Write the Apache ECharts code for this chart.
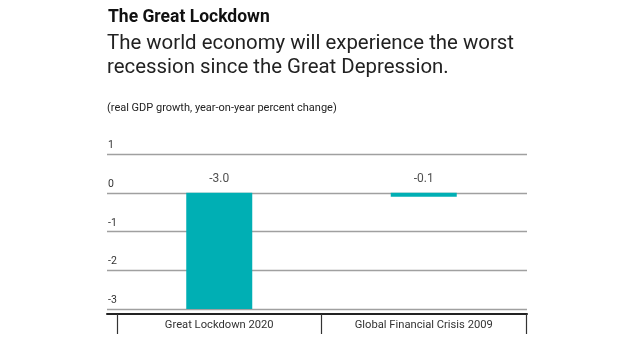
<!DOCTYPE html>
<html><head><meta charset="utf-8">
<script src="https://cdn.jsdelivr.net/npm/echarts@6/dist/echarts.min.js"></script>
<style>html,body{margin:0;padding:0;background:#fff}#c{width:624px;height:351px}</style>
</head><body><div id="c"></div>
<script>
const categories = ['Great Lockdown 2020', 'Global Financial Crisis 2009'];
const growth = [-3.0, -0.1];
const yTicks = [-3, -2, -1, 0, 1];
const title = 'The Great Lockdown';
const subtitle = ['The world economy will experience the worst', 'recession since the Great Depression.'];
const unitNote = '(real GDP growth, year-on-year percent change)';

const chart = echarts.init(document.getElementById('c'));
const font = 'Roboto, "Liberation Sans", sans-serif';
chart.setOption({
  animation: false,
  graphic: [
    {type:'text', left:108, top:9, style:{text:title, font:'bold 17.5px '+font, fill:'#111'}},
    {type:'text', left:107, top:32, style:{text:subtitle.join('\n'), font:'20.4px '+font, lineHeight:24, fill:'#222'}},
    {type:'text', left:107, top:103, style:{text:unitNote, font:'11px '+font, fill:'#222'}}
  ],
  grid: [
    {left:107, right:97, top:154, bottom:42},
    {left:117, right:98, top:154, bottom:42}
  ],
  xAxis: [
    {gridIndex:0, type:'value', min:0, max:1, offset:5,
     axisLine:{show:true, onZero:false, lineStyle:{color:'#222', width:2}},
     axisTick:{show:false}, axisLabel:{show:false}, splitLine:{show:false}},
    {gridIndex:1, type:'category', data:categories, offset:5,
     axisLine:{show:false, onZero:false},
     axisTick:{show:true, length:20, lineStyle:{color:'#333', width:1.2}},
     axisLabel:{margin:6, fontSize:11.2, color:'#333', fontFamily:font}}
  ],
  yAxis: [
    {gridIndex:0, type:'value', min:yTicks[0], max:yTicks[yTicks.length-1], interval:1,
     axisLine:{show:false}, axisTick:{show:false},
     axisLabel:{inside:true, margin:1, verticalAlign:'bottom', padding:[0,0,3,0], fontSize:10.5, color:'#333', fontFamily:font},
     splitLine:{show:true, lineStyle:{color:'#a0a0a0', width:1.3}}},
    {gridIndex:1, type:'value', min:yTicks[0], max:yTicks[yTicks.length-1], interval:1, show:false}
  ],
  series: [
    {type:'bar', xAxisIndex:1, yAxisIndex:1, data:growth, barWidth:66,
     itemStyle:{color:'#00AFB4'}},
    {type:'scatter', xAxisIndex:1, yAxisIndex:1, symbolSize:0,
     data: growth.map((v,i)=>[i,0,v]),
     label:{show:true, position:'top', distance:8, fontSize:12, color:'#222', fontFamily:font,
       formatter:p=>p.data[2].toFixed(1)}}
  ]
});
</script></body></html>
